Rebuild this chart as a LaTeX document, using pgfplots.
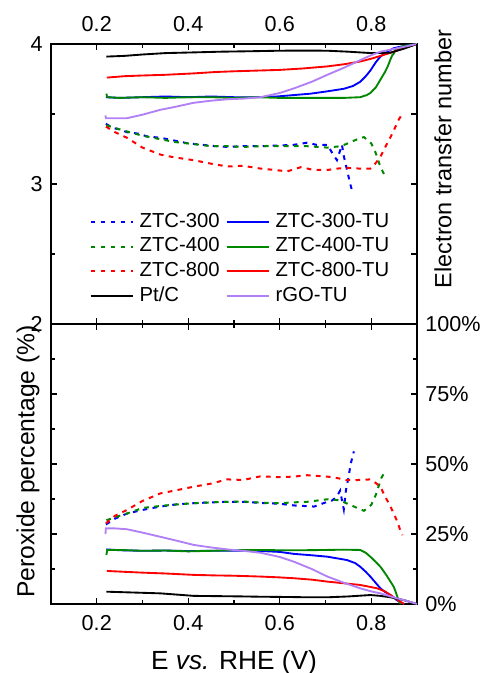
\documentclass[border=0pt]{standalone}
\usepackage{pgfplots}
\pgfplotsset{compat=1.18}
\usepackage{fontspec}
\setmainfont{Liberation Sans}
\usetikzlibrary{calc}
\definecolor{ogreen}{RGB}{0,135,0}
\definecolor{rgo}{RGB}{178,128,245}

\begin{document}
\begin{tikzpicture}
\pgfplotsset{
  panel/.style={
    scale only axis, width=274.5pt, height=210pt,
    xmin=0.1, xmax=0.9,
    xtick={0.2,0.4,0.6,0.8}, minor x tick num=1,
    tick align=inside,
    axis line style={line width=0.9pt},
    every tick/.style={black, line width=0.9pt},
    /pgf/number format/assume math mode=true,
    tick label style={font=\fontsize{16.2}{19}\selectfont},
  },
  dsh/.style={line width=1.5pt, dash pattern=on 3.5pt off 4pt},
  sld/.style={line width=1.4pt},
}

% ---------- top: electron transfer number ----------
\begin{axis}[panel, name=top,
  ymin=2, ymax=4, ytick={2,3,4}, minor y tick num=1, ytick pos=left,
  xticklabel pos=upper,
  yticklabel style={inner sep=0pt, xshift=-6pt},
  xticklabel style={inner sep=0pt, yshift=9pt},
  legend columns=2,
  legend cell align=left,
  legend image code/.code={\draw[#1] (0pt,0pt) -- (31.5pt,0pt);},
  legend style={at={(rel axis cs:0.105,0.409)}, anchor=north west,
    draw=none, fill=none, inner sep=0pt,
    font=\fontsize{15.2}{18}\selectfont,
    nodes={inner sep=2.5pt, text height=10.5pt, text depth=3pt},
    /tikz/every odd column/.append style={column sep=2pt},
    /tikz/every even column/.append style={column sep=2pt}},
]
\addplot[dsh, blue] coordinates {
 (0.220,3.43)(0.235,3.40)(0.25,3.39)(0.266,3.37)(0.29,3.36)(0.31,3.34)(0.339,3.33)
 (0.37,3.31)(0.40,3.29)(0.43,3.28)(0.46,3.27)(0.485,3.265)(0.52,3.27)(0.558,3.27)
 (0.60,3.275)(0.631,3.28)(0.66,3.295)(0.68,3.28)(0.704,3.28)(0.715,3.22)(0.725,3.17)
 (0.732,3.24)(0.736,3.28)(0.74,3.20)(0.747,3.10)(0.752,3.03)(0.758,2.95)
};
\addlegendentry{ZTC-300}
\addplot[sld, blue] coordinates {
 (0.220,3.62)(0.25,3.615)(0.30,3.62)(0.35,3.625)(0.40,3.62)(0.45,3.625)(0.50,3.62)
 (0.55,3.62)(0.593,3.625)(0.63,3.635)(0.667,3.645)(0.70,3.66)(0.74,3.68)(0.76,3.70)
 (0.776,3.73)(0.788,3.77)(0.798,3.81)(0.81,3.87)(0.82,3.91)(0.835,3.945)(0.849,3.97)
 (0.87,3.985)(0.9,4.0)
};
\addlegendentry{ZTC-300-TU}
\addplot[dsh, ogreen] coordinates {
 (0.221,3.42)(0.24,3.40)(0.266,3.375)(0.30,3.345)(0.339,3.32)(0.37,3.30)(0.412,3.285)
 (0.45,3.27)(0.485,3.27)(0.52,3.265)(0.558,3.27)(0.60,3.27)(0.631,3.27)(0.66,3.27)
 (0.704,3.26)(0.733,3.27)(0.745,3.285)(0.755,3.30)(0.77,3.32)(0.784,3.335)(0.793,3.31)
 (0.80,3.29)(0.81,3.22)(0.817,3.15)(0.822,3.11)(0.828,3.07)
};
\addlegendentry{ZTC-400}
\addplot[sld, ogreen] coordinates {
 (0.221,3.645)(0.223,3.62)(0.25,3.615)(0.30,3.62)(0.35,3.615)(0.40,3.62)(0.45,3.62)
 (0.50,3.615)(0.55,3.62)(0.60,3.615)(0.65,3.615)(0.70,3.615)(0.74,3.615)(0.776,3.62)
 (0.79,3.635)(0.798,3.65)(0.81,3.69)(0.82,3.745)(0.83,3.80)(0.836,3.84)(0.842,3.89)
 (0.846,3.92)(0.849,3.93)(0.853,3.96)(0.87,3.985)(0.9,4.0)
};
\addlegendentry{ZTC-400-TU}
\addplot[dsh, red] coordinates {
 (0.220,3.41)(0.24,3.37)(0.266,3.33)(0.30,3.26)(0.339,3.21)(0.37,3.19)(0.412,3.17)
 (0.45,3.145)(0.485,3.125)(0.52,3.13)(0.558,3.11)(0.59,3.10)(0.616,3.09)(0.646,3.12)
 (0.675,3.10)(0.704,3.10)(0.725,3.11)(0.747,3.115)(0.775,3.11)(0.798,3.11)(0.81,3.15)
 (0.82,3.195)(0.83,3.26)(0.838,3.31)(0.846,3.36)(0.853,3.41)(0.86,3.46)(0.868,3.50)
};
\addlegendentry{ZTC-800}
\addplot[sld, red] coordinates {
 (0.222,3.76)(0.26,3.77)(0.30,3.775)(0.35,3.78)(0.412,3.79)(0.46,3.80)(0.50,3.805)
 (0.55,3.81)(0.60,3.815)(0.65,3.825)(0.704,3.84)(0.74,3.855)(0.776,3.875)(0.80,3.895)
 (0.82,3.915)(0.835,3.93)(0.849,3.945)(0.87,3.97)(0.9,4.0)
};
\addlegendentry{ZTC-800-TU}
\addplot[sld, black] coordinates {
 (0.221,3.91)(0.26,3.915)(0.30,3.925)(0.35,3.935)(0.412,3.94)(0.47,3.945)(0.53,3.948)
 (0.60,3.952)(0.65,3.953)(0.704,3.952)(0.75,3.945)(0.80,3.935)(0.842,3.938)(0.87,3.965)
 (0.9,4.0)
};
\addlegendentry{Pt/C}
\addplot[sld, rgo] coordinates {
 (0.219,3.49)(0.22,3.47)(0.24,3.47)(0.266,3.47)(0.30,3.495)(0.339,3.53)(0.37,3.55)
 (0.412,3.58)(0.45,3.595)(0.485,3.605)(0.52,3.61)(0.558,3.62)(0.60,3.65)(0.631,3.683)
 (0.67,3.73)(0.704,3.78)(0.74,3.83)(0.776,3.885)(0.80,3.92)(0.82,3.945)(0.85,3.965)
 (0.9,4.0)
};
\addlegendentry{rGO-TU}
\end{axis}

% right-hand ticks of the top panel
\begin{axis}[panel, at={(top.south west)}, anchor=south west,
  ymin=2, ymax=4, hide x axis, axis y line*=right,
  ytick={2.5,3,3.5}, yticklabels={}, minor y tick num=0]
\end{axis}

% ---------- bottom: peroxide percentage ----------
\begin{axis}[panel, name=bot, at={(top.south west)}, anchor=north west,
  ymin=0, ymax=100, ytick={0,25,50,75,100},
  yticklabels={0\%,25\%,50\%,75\%,100\%},
  minor y tick num=1, yticklabel pos=right,
  yticklabel style={inner sep=0pt, xshift=6pt},
  xticklabel pos=lower,
  xticklabel style={inner sep=0pt, yshift=-8.25pt},
]
\addplot[dsh, blue] coordinates {
 (0.22,28.4)(0.24,30.5)(0.266,32.3)(0.30,33.6)(0.339,34.8)(0.37,35.5)(0.412,36.0)
 (0.45,36.3)(0.485,36.5)(0.52,36.5)(0.558,36.1)(0.60,35.8)(0.631,35.2)(0.675,34.8)
 (0.704,36.5)(0.715,37.0)(0.725,38.5)(0.732,40.5)(0.736,37)(0.74,33.8)(0.745,41)
 (0.75,45)(0.755,50)(0.762,54.5)
};
\addplot[sld, blue] coordinates {
 (0.221,19.5)(0.25,19.2)(0.30,19.0)(0.35,19.1)(0.40,18.9)(0.45,19.0)(0.50,19.0)
 (0.55,19.0)(0.60,18.6)(0.631,17.9)(0.67,17.4)(0.704,16.9)(0.747,15.7)(0.765,14.6)
 (0.776,13.3)(0.788,11.5)(0.798,9.8)(0.81,7.5)(0.82,5.6)(0.83,4.3)(0.842,3.2)
 (0.855,1.5)(0.864,0.5)(0.872,0)
};
\addplot[dsh, ogreen] coordinates {
 (0.221,29.9)(0.24,31)(0.266,32.3)(0.30,34.3)(0.339,35.0)(0.37,35.5)(0.412,36.0)
 (0.45,36.3)(0.485,36.5)(0.52,36.6)(0.558,36.2)(0.60,36.0)(0.631,36.3)(0.66,36.5)
 (0.704,37.4)(0.733,37.0)(0.745,36)(0.755,35.4)(0.77,34.2)(0.784,33.3)(0.793,34.5)
 (0.80,35.4)(0.81,39)(0.817,42.5)(0.822,45)(0.828,46.7)
};
\addplot[sld, ogreen] coordinates {
 (0.221,17.5)(0.223,19.3)(0.25,19.3)(0.30,19.0)(0.35,19.1)(0.40,18.8)(0.45,19.0)
 (0.50,19.2)(0.55,19.3)(0.60,19.2)(0.65,19.2)(0.70,19.3)(0.74,19.4)(0.776,19.3)
 (0.788,18.3)(0.798,16.9)(0.81,15.0)(0.82,13.3)(0.828,11.5)(0.835,9.8)(0.842,8.0)
 (0.849,6.2)(0.853,4.5)(0.857,2.6)(0.862,0.5)(0.865,0)
};
\addplot[dsh, red] coordinates {
 (0.22,28.8)(0.24,31.5)(0.266,33.6)(0.30,36.8)(0.339,39.5)(0.37,40.5)(0.412,41.9)
 (0.45,43.0)(0.485,44.5)(0.52,44.3)(0.558,45.6)(0.60,45.3)(0.631,45.5)(0.66,46)
 (0.704,45.5)(0.725,45.0)(0.747,44.2)(0.775,44.3)(0.798,44.5)(0.81,43.2)(0.82,41.9)
 (0.83,38.5)(0.842,34.8)(0.85,32)(0.857,29.4)(0.862,27)(0.868,24.6)
};
\addplot[sld, red] coordinates {
 (0.222,11.8)(0.26,11.5)(0.30,11.2)(0.35,10.9)(0.412,10.4)(0.46,10.2)(0.50,10.1)
 (0.558,9.8)(0.60,9.5)(0.631,9.2)(0.67,8.7)(0.704,8.0)(0.74,7.4)(0.776,6.8)(0.813,5.6)
 (0.83,4.5)(0.842,3.2)(0.855,1.8)(0.864,0.8)(0.872,0)
};
\addplot[sld, black] coordinates {
 (0.221,4.4)(0.26,4.2)(0.30,4.0)(0.339,3.8)(0.38,3.3)(0.412,2.9)(0.47,2.8)(0.52,2.7)
 (0.558,2.6)(0.62,2.5)(0.66,2.4)(0.704,2.4)(0.75,2.7)(0.798,3.2)(0.82,2.9)(0.842,2.4)
 (0.871,1.4)(0.9,0)
};
\addplot[sld, rgo] coordinates {
 (0.219,25)(0.22,27.0)(0.24,27.0)(0.266,26.7)(0.30,25.5)(0.339,24.0)(0.37,22.8)
 (0.412,21.1)(0.45,20.2)(0.485,19.5)(0.52,19.0)(0.558,18.3)(0.60,16.8)(0.631,15.1)
 (0.67,12.5)(0.704,9.8)(0.74,7.6)(0.776,5.6)(0.80,4.5)(0.82,3.8)(0.84,2.8)(0.857,2.0)
 (0.88,1.0)(0.9,0)
};
\end{axis}

\node[rotate=90, font=\fontsize{18.5}{22}\selectfont]
  at ($(bot.west)+(-17.25pt,1.9pt)$) {Peroxide percentage (\%)};
\node[rotate=90, font=\fontsize{17.6}{21}\selectfont]
  at ($(top.east)+(19.5pt,18.75pt)$) {Electron transfer number};
\node[anchor=north, inner sep=0pt, font=\fontsize{19.7}{23}\selectfont]
  at ($(bot.south)+(0,-34.5pt)$) {E \textit{vs.} RHE (V)};

\pgfresetboundingbox
\path[use as bounding box] ($(top.north west)+(-38.25pt,33pt)$)
  rectangle ($(bot.south west)+(322.5pt,-51.75pt)$);
\end{tikzpicture}
\end{document}
